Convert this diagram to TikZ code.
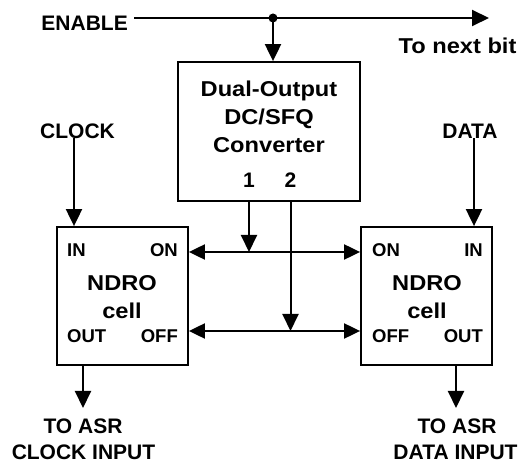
\documentclass[tikz,border=0pt]{standalone}
\usepackage{fontspec}
\setmainfont{Liberation Sans}
\newfontfamily\widesans[FakeStretch=1.1]{Liberation Sans}
\usepackage{tikz}
\usetikzlibrary{positioning}
\usetikzlibrary{arrows.meta}

\tikzset{
  big/.style={font=\fontsize{21}{26}\selectfont\bfseries, inner sep=0pt},
  wide/.style={font=\widesans\fontsize{21.5}{26}\selectfont\bfseries, inner sep=0pt},
  small/.style={font=\fontsize{18.5}{22}\selectfont\bfseries, inner sep=0pt},
  blk/.style={draw, line width=1.8pt, inner sep=0pt},
  wire/.style={line width=2pt},
  arr/.style={wire, -{Triangle[length=17pt,width=16pt]}},
  dbl/.style={wire, {Triangle[length=16pt,width=15pt]}-{Triangle[length=16pt,width=15pt]}},
}

\begin{document}
\begin{tikzpicture}[x=1pt, y=-1pt]
    \useasboundingbox (0,0) rectangle (525,462);

    % blocks
    \node[blk, minimum width=182pt, minimum height=139pt] (conv) at (269,131.5) {};
    \node[blk, minimum width=131pt, minimum height=138pt] (ndroL) at (122.5,296) {};
    \node[blk, minimum width=131pt, minimum height=138pt] (ndroR) at (426.5,296) {};

    % converter text
    \node[wide, anchor=base] (dual) at (269,97) {Dual-Output};
    \node[wide, anchor=base] (dcsfq) at (269,125) {DC/SFQ};
    \node[wide, anchor=base] (convname) at (269,153) {Converter};
    \node[big, anchor=base] (o1) at (249,188) {1};
    \node[big, anchor=base] (o2) at (290.5,188) {2};

    % NDRO cells
    \node[wide, anchor=base] (ndroLname) at (122,291) {NDRO};
    \node[wide, anchor=base] (cellL) at (122,319) {cell};
    \node[small, anchor=base west] (inL) at (67,257) {IN};
    \node[small, anchor=base east] (onL) at (178,257) {ON};
    \node[small, anchor=base west] (outL) at (67,343) {OUT};
    \node[small, anchor=base east] (offL) at (178,343) {OFF};

    \node[wide, anchor=base] (ndroRname) at (427,291) {NDRO};
    \node[wide, anchor=base] (cellR) at (427,319) {cell};
    \node[small, anchor=base west] (onR) at (372,257) {ON};
    \node[small, anchor=base east] (inR) at (483,257) {IN};
    \node[small, anchor=base west] (offR) at (372,343) {OFF};
    \node[small, anchor=base east] (outR) at (483,343) {OUT};

    % outside labels
    \node[big, anchor=base east] (enable) at (128,31) {ENABLE};
    \node[wide, anchor=base] (nextbit) at (457.5,54) {To next bit};
    \node[big, anchor=base] (clock) at (77.5,139) {CLOCK};
    \node[big, anchor=base] (data) at (470,139) {DATA};
    \node[big, anchor=base] (asrL) at (83,433) {TO ASR};
    \node[big, anchor=base] (clkinput) at (83.5,459) {CLOCK INPUT};
    \node[big, anchor=base] (asrR) at (457,433) {TO ASR};
    \node[big, anchor=base] (datinput) at (455.5,459) {DATA INPUT};

    % wiring points
    \coordinate (tap) at (273,18);
    \coordinate (nextend) at (489,18);
    \coordinate (onrow) at (0,252);
    \coordinate (offrow) at (0,331);
    \path (ndroL.north) ++(-48.5,0) coordinate (clkin);
    \path (ndroR.north) ++(47.5,0) coordinate (datin);
    \coordinate (clkout) at (83,408);
    \coordinate (datout) at (456,408);

    % enable line
    \draw[arr] ([xshift=6pt]enable.east |- tap) -- (nextend);
    \fill (tap) circle (4.5pt);
    \draw[arr] (tap) -- (tap |- conv.north);

    % inputs
    \draw[arr] ([yshift=1pt]clock.south -| clkin) -- (clkin);
    \draw[arr] ([yshift=1pt]data.south -| datin) -- (datin);

    % converter outputs
    \draw[dbl] (ndroL.east |- onrow) -- (ndroR.west |- onrow);
    \draw[dbl] (ndroL.east |- offrow) -- (ndroR.west |- offrow);
    \draw[arr] (o1 |- conv.south) -- (o1 |- onrow);
    \draw[arr] (o2 |- conv.south) -- (o2 |- offrow);

    % outputs
    \draw[arr] (ndroL.south -| clkout) -- (clkout);
    \draw[arr] (ndroR.south -| datout) -- (datout);
\end{tikzpicture}
\end{document}
